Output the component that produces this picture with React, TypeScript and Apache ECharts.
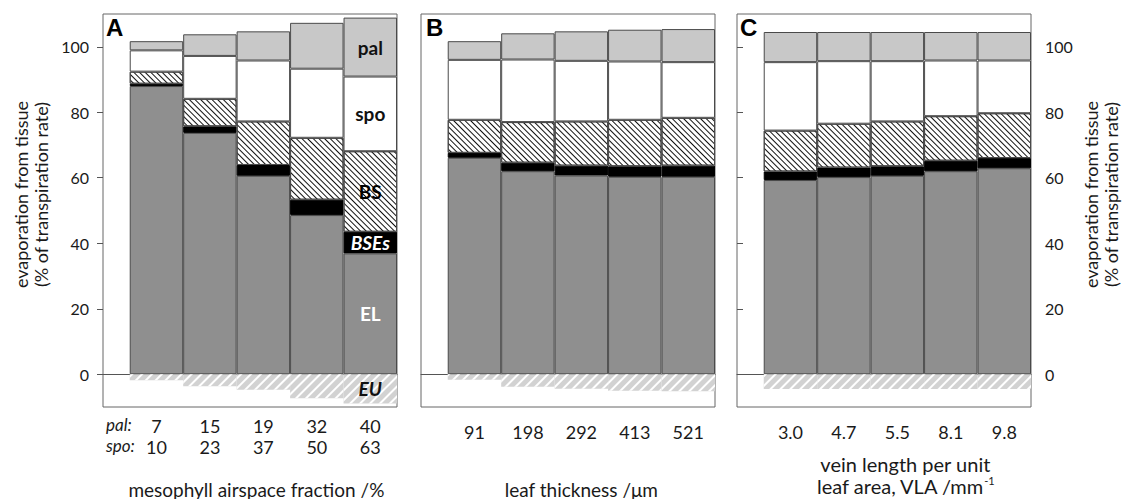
import React, { useEffect, useRef } from 'react';
import * as echarts from 'echarts';

// ---------- data ----------
const palFraction = ['7', '15', '19', '32', '40'];
const spoFraction = ['10', '23', '37', '50', '63'];
const leafThickness = ['91', '198', '292', '413', '521'];
const veinLength = ['3.0', '4.7', '5.5', '8.1', '9.8'];
const yTicks = [0, 20, 40, 60, 80, 100];

// Panel A: mesophyll airspace fraction
const EL_A = [88.0, 73.7, 60.6, 48.6, 36.9];
const BSEs_A = [0.7, 2.0, 3.3, 4.7, 6.6];
const BS_A = [3.7, 8.4, 13.3, 18.9, 24.6];
const spo_A = [6.5, 13.1, 18.6, 21.1, 22.8];
const pal_A = [2.8, 6.6, 8.9, 14.0, 18.0];
const EU_A = [-1.8, -3.7, -4.7, -7.3, -8.9];

// Panel B: leaf thickness
const EL_B = [66.1, 62.0, 60.7, 60.3, 60.3];
const BSEs_B = [1.5, 2.6, 3.0, 3.2, 3.4];
const BS_B = [10.1, 12.4, 13.5, 14.2, 14.6];
const spo_B = [18.3, 19.1, 18.5, 17.8, 17.0];
const pal_B = [5.7, 8.0, 9.0, 9.7, 10.1];
const EU_B = [-1.7, -3.8, -4.4, -5.0, -5.2];

// Panel C: vein length per unit leaf area
const EL_C = [59.3, 60.2, 60.6, 62.0, 62.9];
const BSEs_C = [2.6, 2.9, 2.9, 3.2, 3.1];
const BS_C = [12.5, 13.4, 13.7, 13.6, 13.7];
const spo_C = [20.9, 19.1, 18.4, 17.0, 16.1];
const pal_C = [9.2, 8.9, 8.9, 8.7, 8.7];
const EU_C = [-4.5, -4.5, -4.5, -4.5, -4.5];

const layerNames = ['EL', 'BSEs', 'BS', 'spo', 'pal', 'EU'];

// ---------- styling ----------
const FONT = 'Lato';
const TEXT = '#1a1a1a';
const BORDER = '#4a4a4a';
const frameLefts = [103, 421, 737];
const FRAME_W = 294;
const TOP = 14;
const H = 393;
const SLOT = FRAME_W / 5.5;

const layerStyles: any = {
  EL: { color: '#8f8f8f', borderColor: BORDER, borderWidth: 1 },
  BSEs: { color: '#000000', borderColor: '#000', borderWidth: 1 },
  BS: {
    color: '#ffffff',
    borderColor: BORDER,
    borderWidth: 1,
    decal: {
      symbol: 'rect', symbolSize: 1, color: '#111', backgroundColor: '#ffffff',
      dashArrayX: [1, 0], dashArrayY: [1, 2.2], rotation: Math.PI / 4,
    },
  },
  spo: { color: '#ffffff', borderColor: BORDER, borderWidth: 1 },
  pal: { color: '#c8c8c8', borderColor: BORDER, borderWidth: 1 },
  EU: {
    color: '#d2d2d2',
    borderWidth: 0,
    decal: {
      symbol: 'rect', symbolSize: 1, color: '#ffffff', backgroundColor: '#d2d2d2',
      dashArrayX: [1, 0], dashArrayY: [2, 4.6], rotation: -Math.PI / 4,
    },
  },
};

const layerLabels: any = {
  pal: { color: '#111', fontWeight: 'bold', fontStyle: 'normal' },
  spo: { color: '#111', fontWeight: 'bold', fontStyle: 'normal' },
  BS: { color: '#000', fontWeight: 'bold', fontStyle: 'normal' },
  BSEs: { color: '#fff', fontWeight: 'bold', fontStyle: 'italic' },
  EL: { color: '#fff', fontWeight: 'bold', fontStyle: 'normal' },
  EU: { color: '#111', fontWeight: 'bold', fontStyle: 'italic' },
};

const panels = [
  { layers: [EL_A, BSEs_A, BS_A, spo_A, pal_A, EU_A], cats: palFraction.map((p, i) => '{v|' + p + '}\n{v|' + spoFraction[i] + '}') },
  { layers: [EL_B, BSEs_B, BS_B, spo_B, pal_B, EU_B], cats: leafThickness },
  { layers: [EL_C, BSEs_C, BS_C, spo_C, pal_C, EU_C], cats: veinLength },
];

const yName = 'evaporation from tissue\n(% of transpiration rate)';

function buildOption() {
  const grid: any[] = [];
  const xAxis: any[] = [];
  const yAxis: any[] = [];
  const series: any[] = [];

  // frame grids (0..2)
  frameLefts.forEach((left, p) => {
    grid.push({
      left, top: TOP, width: FRAME_W, height: H, show: true, borderColor: '#666', borderWidth: 1,
      backgroundColor: 'transparent', outerBoundsMode: 'none', containLabel: false,
    });
    xAxis.push({
      type: 'value', gridIndex: p, min: 0, max: 1,
      axisLine: { show: true, onZero: true, lineStyle: { color: '#555', width: 1 } },
      axisTick: { show: false }, axisLabel: { show: false }, splitLine: { show: false },
    });
    const showY = p === 0 || p === 2;
    yAxis.push({
      type: 'value', gridIndex: p, min: -10, max: 110,
      position: p === 2 ? 'right' : 'left',
      axisLine: { show: false },
      axisTick: { show: showY, customValues: yTicks, length: 6, lineStyle: { color: '#555' } },
      axisLabel: { show: showY, customValues: yTicks, margin: 14, fontSize: 16, color: TEXT, fontFamily: FONT },
      splitLine: { show: false },
      name: showY ? yName : '',
      nameLocation: 'middle',
      nameRotate: 90,
      nameGap: p === 2 ? 50 : 52,
      nameTextStyle: { fontSize: 18, lineHeight: 20, color: TEXT, fontFamily: FONT, padding: [0, 0, 0, 32] },
    });
  });

  // data grids (3..5)
  const xNames = [
    { name: 'mesophyll airspace fraction /%', gap: 72, margin: 8, size: 19, lh: 20, pad: [0, 14, 0, 0] },
    { name: 'leaf thickness /\u03bcm', gap: 72, margin: 14, size: 19, lh: 20, pad: [0, 0, 0, 0] },
    { name: 'vein length per unit\nleaf area, VLA /mm{sup|-1}', gap: 46, margin: 14, size: 20, lh: 22, pad: [0, 0, 0, 16] },
  ];
  frameLefts.forEach((left, p) => {
    const gi = p + 3;
    grid.push({
      left: left + SLOT / 2, top: TOP, width: FRAME_W - SLOT / 2, height: H,
      outerBoundsMode: 'none', containLabel: false,
    });
    xAxis.push({
      type: 'category', gridIndex: gi, data: panels[p].cats,
      axisLine: { show: false }, axisTick: { show: false },
      axisLabel: {
        interval: 0,
        margin: xNames[p].margin, fontSize: 18, lineHeight: 21, color: TEXT, fontFamily: FONT,
        rich: { v: { fontSize: 18, lineHeight: 21, color: TEXT, fontFamily: FONT } },
      },
      name: xNames[p].name, nameLocation: 'middle', nameGap: xNames[p].gap,
      nameTextStyle: {
        fontSize: xNames[p].size, lineHeight: xNames[p].lh, color: TEXT, fontFamily: FONT, padding: xNames[p].pad,
        rich: { sup: { fontSize: 11, lineHeight: 12, verticalAlign: 'top', color: TEXT, fontFamily: FONT } },
      },
    });
    yAxis.push({ type: 'value', gridIndex: gi, min: -10, max: 110, show: false });

    panels[p].layers.forEach((vals, li) => {
      const lname = layerNames[li];
      series.push({
        type: 'bar',
        name: lname + ' ' + p,
        xAxisIndex: gi,
        yAxisIndex: gi,
        stack: 'panel' + p,
        barCategoryGap: '0%',
        itemStyle: layerStyles[lname],
        emphasis: { disabled: true },
        data: vals.map((v, i) => {
          if (p === 0 && i === 4) {
            return {
              value: v,
              label: {
                show: true, position: 'inside', formatter: lname,
                fontSize: 19, fontFamily: FONT, ...layerLabels[lname],
              },
            };
          }
          return v;
        }),
      });
    });
  });

  return {
    animation: false,
    backgroundColor: '#ffffff',
    textStyle: { fontFamily: FONT },
    title: [
      { text: 'A', left: 106, top: 15 },
      { text: 'B', left: 426, top: 15 },
      { text: 'C', left: 740, top: 15 },
    ].map((t) => ({ ...t, padding: 0, textStyle: { fontSize: 24, fontWeight: 'bold', color: '#000', fontFamily: 'Liberation Sans' } })),
    graphic: [
      { type: 'text', left: 106, top: 416, style: { text: 'pal:', font: 'italic 17px Lato', fill: TEXT } },
      { type: 'text', left: 106, top: 437, style: { text: 'spo:', font: 'italic 17px Lato', fill: TEXT } },
    ],
    grid, xAxis, yAxis, series,
  };
}

export default function App() {
  const ref = useRef<HTMLDivElement>(null);
  useEffect(() => {
    if (!ref.current) return;
    const chart = echarts.init(ref.current, undefined, { renderer: 'svg' });
    chart.setOption(buildOption() as any);
    return () => chart.dispose();
  }, []);
  return <div ref={ref} style={{ position: 'absolute', left: 0, top: 0, width: 1128, height: 499 }} />;
}
